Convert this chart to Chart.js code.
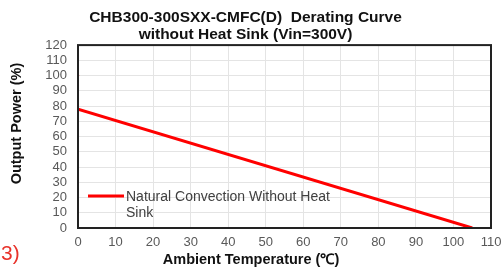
<!DOCTYPE html>
<html>
<head>
<meta charset="utf-8">
<script src="https://cdn.jsdelivr.net/npm/chart.js@4/dist/chart.umd.min.js"></script>
<style>
  html, body { margin: 0; padding: 0; background: #fff; }
  #wrap { position: relative; width: 501px; height: 272px; }
  #note { position: absolute; left: 1px; top: 241px; font: 21px "Liberation Sans", Arial, sans-serif; color: #e8322a; }
</style>
</head>
<body>
<div id="wrap">
  <canvas id="chart" width="501" height="272"></canvas>
  <div id="note">3)</div>
</div>
<script>
const titleLines = ["CHB300-300SXX-CMFC(D)  Derating Curve", "without Heat Sink (Vin=300V)"];
const seriesLabel = ["Natural Convection Without Heat", "Sink"];
const tempC = [0, 105];
const powerPct = [78, 0];
const markerTemp = [0];
const markerPower = [100];
const xTitle = "Ambient Temperature (\u2103)";
const yTitle = "Output Power (%)";

const FONT = '"Liberation Sans", Arial, sans-serif';

// frame, in-plot legend and the two axis titles (placed like the original, not centred on the plot)
const extras = {
  id: "extras",
  afterDatasetsDraw(chart) {
    const { ctx, chartArea: a } = chart;
    ctx.save();
    ctx.strokeStyle = "#222";
    ctx.lineWidth = 2;
    ctx.strokeRect(a.left, a.top, a.right - a.left, a.bottom - a.top);
    ctx.restore();
  },
  afterDraw(chart) {
    const { ctx, chartArea: a } = chart;
    const x0 = a.left + 10, y0 = a.bottom - 32;
    ctx.save();
    ctx.strokeStyle = "#ff0000";
    ctx.lineWidth = 3;
    ctx.beginPath();
    ctx.moveTo(x0, y0);
    ctx.lineTo(x0 + 36, y0);
    ctx.stroke();
    ctx.fillStyle = "#404040";
    ctx.font = "14px " + FONT;
    ctx.textBaseline = "middle";
    seriesLabel.forEach((t, i) => ctx.fillText(t, x0 + 38, y0 + 1 + i * 16));

    ctx.fillStyle = "#111";
    ctx.font = "bold 14.5px " + FONT;
    ctx.textAlign = "center";
    ctx.fillText(xTitle, 251, a.bottom + 32);
    ctx.translate(17, (a.top + a.bottom) / 2 - 13);
    ctx.rotate(-Math.PI / 2);
    ctx.fillText(yTitle, 0, 0);
    ctx.restore();
  }
};

new Chart(document.getElementById("chart"), {
  type: "scatter",
  data: {
    datasets: [
      {
        label: seriesLabel.join(" "),
        data: tempC.map((x, i) => ({ x, y: powerPct[i] })),
        showLine: true,
        borderColor: "#ff0000",
        borderWidth: 3,
        pointRadius: 0,
      },
      {
        label: "marker",
        data: markerTemp.map((x, i) => ({ x, y: markerPower[i] })),
        backgroundColor: "#ff3030",
        borderWidth: 0,
        pointRadius: 1.2,
      }
    ]
  },
  options: {
    responsive: false,
    animation: false,
    layout: { padding: { left: 0, right: 10, top: 0, bottom: 0 } },
    plugins: {
      legend: { display: false },
      tooltip: { enabled: false },
      title: {
        display: true,
        text: titleLines,
        color: "#111",
        font: { family: FONT, size: 15.5, weight: "bold", lineHeight: 1.1 },
        padding: { top: 9, bottom: 2 }
      }
    },
    scales: {
      x: {
        type: "linear",
        min: 0, max: 110,
        afterFit(scale) { scale.height = 44; scale.paddingRight = 0; scale.paddingLeft = 0; },
        ticks: { stepSize: 10, autoSkip: false, maxRotation: 0, color: "#595959", font: { family: FONT, size: 13 }, padding: 7 },
        grid: { color: "#e4e4e4", drawTicks: false },
        border: { display: false }
      },
      y: {
        min: 0, max: 120,
        afterFit(scale) { scale.width = 78; },
        ticks: { stepSize: 10, autoSkip: false, color: "#595959", font: { family: FONT, size: 13 }, padding: 11 },
        grid: { color: "#e4e4e4", drawTicks: false },
        border: { display: false }
      }
    }
  },
  plugins: [extras]
});
</script>
</body>
</html>
